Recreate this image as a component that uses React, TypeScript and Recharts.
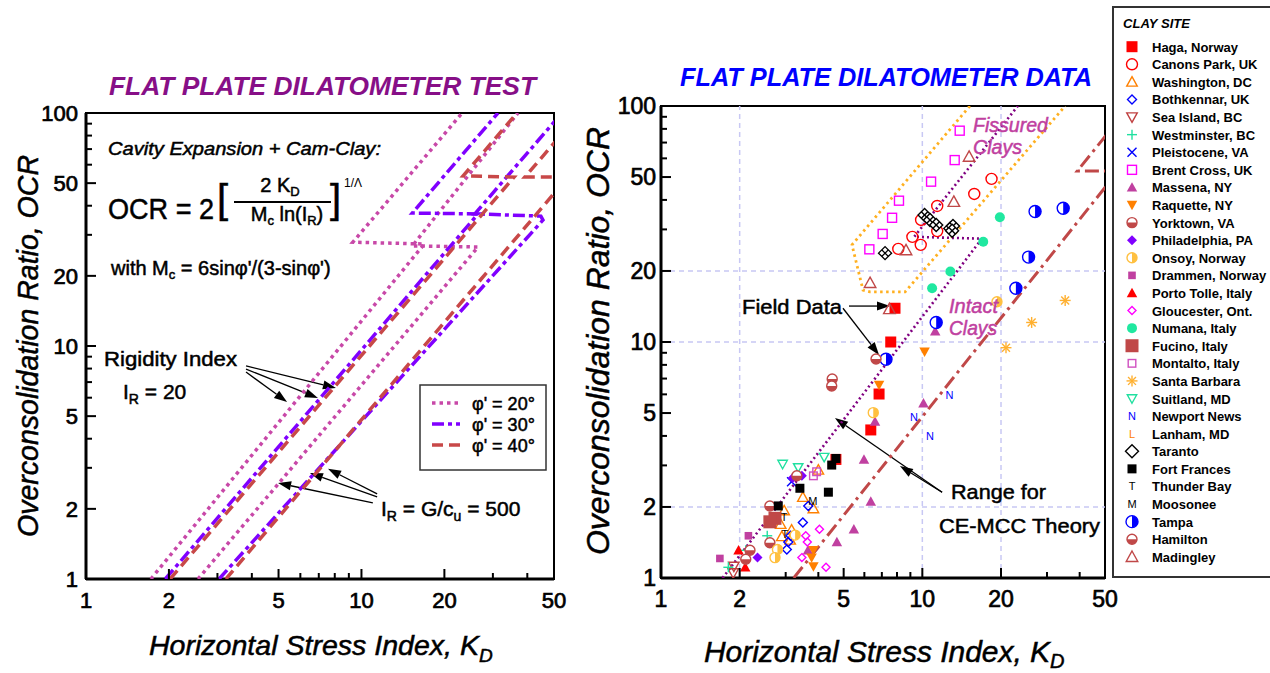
import React from 'react';
import { ScatterChart, Scatter, XAxis, YAxis, ReferenceLine, ReferenceArea } from 'recharts';

const FONT = '"Liberation Sans", Arial, Helvetica, sans-serif';

// axes
const kdTicks = [1, 2, 3, 4, 5, 6, 7, 8, 9, 10, 20, 30, 40, 50];
const kdLabels = [1, 2, 5, 10, 20, 50];
const ocrTicks = [1, 2, 3, 4, 5, 6, 7, 8, 9, 10, 20, 30, 40, 50, 60, 70, 80, 90, 100];
const ocrLabels = [1, 2, 5, 10, 20, 50, 100];
const gridValues = [2, 10, 20];

// CE-MCC theory curves, [KD, OCR]
const phi20ir20 = [[1.72, 1], [16.9, 27.4], [9.31, 27.9], [23.2, 100]];
const phi30ir20 = [[1.94, 1], [26.5, 36.9], [15.3, 37.2], [31.3, 100]];
const phi40ir20 = [[2.02, 1], [35.8, 53.1], [23.4, 53.7], [36.7, 100]];
const phi20ir500 = [[2.55, 1], [26.5, 26.6], [15.3, 26.9], [37.0, 100]];
const phi30ir500 = [[3.04, 1], [45.6, 34.7], [44.8, 36.1], [25.8, 36.9], [53.4, 100]];
const phi40ir500 = [[3.22, 1], [56.2, 53.1], [39.2, 53.1], [62.1, 100]];
const fissuredEnvelope = [[15.2, 100], [5.38, 25.8], [5.93, 16.6], [6.31, 16.3], [8.59, 16.3], [35.2, 100]];

// field data by clay site, [KD, OCR]
const haga = [[7.86, 13.9], [7.57, 10.0], [6.83, 6.02], [6.35, 4.24], [4.67, 3.18]];
const canonsPark = [[18.4, 49.1], [15.8, 42.4], [11.4, 37.7], [9.89, 32.9], [11.4, 29.5], [9.16, 27.9], [9.86, 25.8], [8.09, 24.8]];
const washington = [[3.49, 2.2], [3.83, 1.97], [2.96, 1.93], [2.87, 1.69], [3.16, 1.6], [2.9, 1.5], [3.12, 1.45], [4.0, 2.87]];
const bothkennar = [[3.66, 2.02], [3.49, 1.72], [3.07, 1.42], [3.03, 1.32], [3.13, 1.51]];
const seaIsland = [[1.89, 1.05], [1.9, 1.12]];
const westminster = [[2.55, 1.51], [2.11, 1.31], [1.81, 1.11]];
const pleistocene = [[3.16, 2.56]];
const brentCross = [[13.9, 78.6], [13.3, 59.0], [10.8, 47.8], [8.14, 39.7], [7.66, 33.6], [7.05, 28.7], [6.27, 24.7]];
const massena = [[11.2, 11.1], [10.1, 5.5], [6.59, 4.6], [5.98, 3.18], [6.35, 2.11], [5.47, 1.61], [4.71, 1.42], [3.65, 1.31]];
const raquette = [[10.2, 9.1], [6.83, 6.57], [3.83, 1.31], [3.77, 1.22], [3.83, 1.12]];
const yorktown = [[4.52, 6.97], [4.5, 6.51], [2.61, 2.02], [2.61, 1.41], [2.19, 1.31]];
const philadelphia = [[3.46, 2.71], [3.19, 2.65], [2.34, 1.22]];
const onsoy = [[19.3, 14.8], [6.49, 5.02], [2.79, 1.32], [2.73, 1.22], [3.26, 1.52]];
const drammen = [[2.16, 1.51], [1.68, 1.21]];
const portoTolle = [[1.98, 1.31], [2.1, 1.11]];
const gloucester = [[4.04, 1.61], [3.58, 1.51], [3.63, 1.42], [3.46, 1.22], [4.28, 1.11]];
const numana = [[19.8, 33.8], [17.1, 26.6], [12.8, 19.9], [10.9, 16.9]];
const fucino = [[2.73, 1.79], [2.61, 1.73]];
const montalto = [[3.83, 2.71], [3.94, 2.82]];
const santaBarbara = [[35.2, 15.0], [26.2, 12.1], [20.9, 9.46]];
const suitland = [[2.92, 3.04], [3.35, 2.94], [4.21, 3.25]];
const newportNews = [[12.7, 5.96], [9.3, 4.8], [10.7, 4.0]];
const lanham: number[][] = [];
const taranto = [[7.2, 23.8], [10.2, 34.5], [10.7, 32.9], [11.3, 31.3], [12.8, 30.3], [13.1, 31.0], [13.0, 29.6]];
const fortFrances = [[4.5, 3.01], [4.67, 3.21], [4.37, 2.31], [3.4, 2.4], [2.81, 2.02]];
const thunderBay = [[2.96, 1.81], [2.98, 1.53]];
const moosonee = [[3.81, 2.13]];
const tampa = [[34.6, 36.9], [27.0, 35.7], [25.5, 22.9], [22.8, 16.9], [11.3, 12.1], [7.26, 8.45]];
const hamilton = [[6.65, 8.47], [3.31, 2.71], [2.11, 1.2]];
const madingley = [[15.1, 61.0], [13.2, 39.3], [8.66, 24.5], [6.31, 17.8], [7.48, 13.8]];

// annotation arrows [from, to] in KD/OCR
const rigidityArrows = [[[3.81, 8.21], [8.08, 6.6]], [[3.81, 7.96], [6.95, 5.98]], [[3.81, 7.73], [5.37, 5.75]]];
const ir500Arrows = [[[11.4, 2.32], [7.56, 2.97]], [[11.4, 2.25], [6.5, 2.85]], [[11.0, 2.12], [4.98, 2.58]]];
const fieldArrows = [[[5.24, 14.2], [7.52, 14.2]], [[4.97, 13.9], [6.83, 8.81]]];
const rangeArrows = [[[11.9, 2.31], [4.63, 4.76]], [[11.9, 2.31], [8.21, 2.98]]];

const sites = [
  { name: 'Haga, Norway', data: haga, kind: 'sqF', color: '#ff0000', r: 5.5 },
  { name: 'Canons Park, UK', data: canonsPark, kind: 'circO', color: '#ff0000', r: 5.5 },
  { name: 'Washington, DC', data: washington, kind: 'triUO', color: '#ff8000', r: 5 },
  { name: 'Bothkennar, UK', data: bothkennar, kind: 'diaO', color: '#0000ff', r: 4.5 },
  { name: 'Sea Island, BC', data: seaIsland, kind: 'triDO', color: '#c04040', r: 5 },
  { name: 'Westminster, BC', data: westminster, kind: 'plus', color: '#20e0a0', r: 5 },
  { name: 'Pleistocene, VA', data: pleistocene, kind: 'x', color: '#0000ff', r: 4.5 },
  { name: 'Brent Cross, UK', data: brentCross, kind: 'sqO', color: '#ff00ff', r: 4.5 },
  { name: 'Massena, NY', data: massena, kind: 'triUF', color: '#c040a0', r: 5 },
  { name: 'Raquette, NY', data: raquette, kind: 'triDF', color: '#ff8000', r: 5 },
  { name: 'Yorktown, VA', data: yorktown, kind: 'halfB', color: '#c04848', r: 5 },
  { name: 'Philadelphia, PA', data: philadelphia, kind: 'diaF', color: '#8000ff', r: 5 },
  { name: 'Onsoy, Norway', data: onsoy, kind: 'halfR', color: '#ffc040', r: 5 },
  { name: 'Drammen, Norway', data: drammen, kind: 'sqF', color: '#c040a0', r: 3.8 },
  { name: 'Porto Tolle, Italy', data: portoTolle, kind: 'triUF', color: '#ff0000', r: 5 },
  { name: 'Gloucester, Ont.', data: gloucester, kind: 'diaO', color: '#ff00ff', r: 4 },
  { name: 'Numana, Italy', data: numana, kind: 'circF', color: '#20e8a0', r: 5 },
  { name: 'Fucino, Italy', data: fucino, kind: 'sqF', color: '#c04848', r: 6.5 },
  { name: 'Montalto, Italy', data: montalto, kind: 'sqO', color: '#d050c0', r: 3.8 },
  { name: 'Santa Barbara', data: santaBarbara, kind: 'star', color: '#ffb030', r: 5.5 },
  { name: 'Suitland, MD', data: suitland, kind: 'triDO', color: '#20e0a0', r: 4.5 },
  { name: 'Newport News', data: newportNews, kind: 'N', color: '#0000ff', r: 5 },
  { name: 'Lanham, MD', data: lanham, kind: 'L', color: '#ff8000', r: 5 },
  { name: 'Taranto', data: taranto, kind: 'diaH', legendKind: 'dia', color: '#000000', r: 6.5 },
  { name: 'Fort Frances', data: fortFrances, kind: 'sqF', color: '#000000', r: 4.5 },
  { name: 'Thunder Bay', data: thunderBay, kind: 'T', color: '#000000', r: 5 },
  { name: 'Moosonee', data: moosonee, kind: 'M', color: '#000000', r: 5 },
  { name: 'Tampa', data: tampa, kind: 'halfR', color: '#0000ff', r: 6 },
  { name: 'Hamilton', data: hamilton, kind: 'halfB', color: '#c04848', r: 5 },
  { name: 'Madingley', data: madingley, kind: 'triUO', color: '#c04848', r: 5.5 },
];

const PINK = '#c848a8';
const VIOLET = '#8000ff';
const BRICK = '#c84848';
const dotted = { dash: '3.5 4', width: 3.5 };
const dashDot = { dash: '12 4 4 4', width: 3.5 };
const dashed = { dash: '11 6', width: 3.5 };

const leftCurves = [
  { data: phi20ir20, color: PINK, ...dotted },
  { data: phi20ir500, color: PINK, ...dotted },
  { data: phi30ir20, color: VIOLET, ...dashDot },
  { data: phi30ir500, color: VIOLET, ...dashDot },
  { data: phi40ir20, color: BRICK, ...dashed },
  { data: phi40ir500, color: BRICK, ...dashed },
];

const rightCurves = [
  { data: fissuredEnvelope, color: '#ffb020', dash: '2.5 3.5', width: 2.8 },
  { data: phi20ir20, color: '#800080', dash: '2 3', width: 2.6 },
  { data: phi40ir500, color: '#c04848', dash: '14 5 3 5', width: 3 },
];

const toPts = (a: number[][]) => a.map(([x, y]) => ({ x, y }));

function Marker({ kind, color, cx, cy, r }: any) {
  const sw = 1.4;
  const h = r * 1.05;
  const up = `${cx},${cy - h} ${cx + h},${cy + h * 0.8} ${cx - h},${cy + h * 0.8}`;
  const down = `${cx},${cy + h} ${cx + h},${cy - h * 0.8} ${cx - h},${cy - h * 0.8}`;
  const dia = `${cx},${cy - r} ${cx + r},${cy} ${cx},${cy + r} ${cx - r},${cy}`;
  switch (kind) {
    case 'sqF':
      return <rect x={cx - r} y={cy - r} width={2 * r} height={2 * r} fill={color} />;
    case 'sqO':
      return <rect x={cx - r} y={cy - r} width={2 * r} height={2 * r} fill="none" stroke={color} strokeWidth={sw} />;
    case 'circO':
      return <circle cx={cx} cy={cy} r={r} fill="none" stroke={color} strokeWidth={sw} />;
    case 'circF':
      return <circle cx={cx} cy={cy} r={r} fill={color} />;
    case 'triUO':
      return <polygon points={up} fill="none" stroke={color} strokeWidth={sw} />;
    case 'triUF':
      return <polygon points={up} fill={color} />;
    case 'triDO':
      return <polygon points={down} fill="none" stroke={color} strokeWidth={sw} />;
    case 'triDF':
      return <polygon points={down} fill={color} />;
    case 'diaO':
    case 'dia':
      return <polygon points={dia} fill="none" stroke={color} strokeWidth={sw} />;
    case 'diaF':
      return <polygon points={dia} fill={color} />;
    case 'diaH':
      return (
        <g stroke={color} strokeWidth={sw}>
          <polygon points={dia} fill="#fff" />
          <line x1={cx + r / 2} y1={cy - r / 2} x2={cx - r / 2} y2={cy + r / 2} />
          <line x1={cx - r / 2} y1={cy - r / 2} x2={cx + r / 2} y2={cy + r / 2} />
        </g>
      );
    case 'plus':
      return (
        <g stroke={color} strokeWidth={sw}>
          <line x1={cx - r} y1={cy} x2={cx + r} y2={cy} />
          <line x1={cx} y1={cy - r} x2={cx} y2={cy + r} />
        </g>
      );
    case 'x':
      return (
        <g stroke={color} strokeWidth={sw}>
          <line x1={cx - r} y1={cy - r} x2={cx + r} y2={cy + r} />
          <line x1={cx - r} y1={cy + r} x2={cx + r} y2={cy - r} />
        </g>
      );
    case 'star': {
      const d = r * 0.72;
      return (
        <g stroke={color} strokeWidth={sw}>
          <line x1={cx - r} y1={cy} x2={cx + r} y2={cy} />
          <line x1={cx} y1={cy - r} x2={cx} y2={cy + r} />
          <line x1={cx - d} y1={cy - d} x2={cx + d} y2={cy + d} />
          <line x1={cx - d} y1={cy + d} x2={cx + d} y2={cy - d} />
        </g>
      );
    }
    case 'halfB':
      return (
        <g>
          <circle cx={cx} cy={cy} r={r} fill="#fff" stroke={color} strokeWidth={sw} />
          <path d={`M${cx - r},${cy} A${r},${r} 0 0 0 ${cx + r},${cy} Z`} fill={color} />
        </g>
      );
    case 'halfR':
      return (
        <g>
          <circle cx={cx} cy={cy} r={r} fill="#fff" stroke={color} strokeWidth={sw} />
          <path d={`M${cx},${cy - r} A${r},${r} 0 0 1 ${cx},${cy + r} Z`} fill={color} />
        </g>
      );
    default:
      return (
        <text x={cx} y={cy + 4} textAnchor="middle" fontSize={11} fontFamily={FONT} fill={color}>
          {kind}
        </text>
      );
  }
}

const arrowShape = (p: any) => {
  const { x1, y1, x2, y2 } = p;
  const a = Math.atan2(y2 - y1, x2 - x1);
  const L = 13;
  const W = 4.5;
  const bx = x2 - L * Math.cos(a);
  const by = y2 - L * Math.sin(a);
  const pts = `${x2},${y2} ${bx + W * Math.sin(a)},${by - W * Math.cos(a)} ${bx - W * Math.sin(a)},${by + W * Math.cos(a)}`;
  return (
    <g>
      <line x1={x1} y1={y1} x2={bx} y2={by} stroke="#000" strokeWidth={1.3} />
      <polygon points={pts} fill="#000" />
    </g>
  );
};

const makeXTick = (fs: number) => (p: any) => {
  const { x, y, payload } = p;
  const major = kdLabels.includes(payload.value);
  return (
    <g>
      <line x1={x} x2={x} y1={y} y2={y - (major ? 10 : 6)} stroke="#000" strokeWidth={2} />
      {major && (
        <text x={x} y={y + 29} textAnchor="middle" fontSize={fs} fontFamily={FONT} fill="#000" stroke="#000" strokeWidth={0.7}>
          {payload.value}
        </text>
      )}
    </g>
  );
};

const makeYTick = (fs: number, gap: number) => (p: any) => {
  const { x, y, payload } = p;
  const major = ocrLabels.includes(payload.value);
  return (
    <g>
      <line x1={x} x2={x + (major ? 10 : 6)} y1={y} y2={y} stroke="#000" strokeWidth={2} />
      {major && (
        <text x={x - gap} y={y + fs * 0.36} textAnchor="end" fontSize={fs} fontFamily={FONT} fill="#000" stroke="#000" strokeWidth={0.7}>
          {payload.value}
        </text>
      )}
    </g>
  );
};

function axes(fs: number, gap: number) {
  return [
    <XAxis
      key="x"
      type="number"
      dataKey="x"
      scale="log"
      domain={[1, 50]}
      allowDataOverflow
      ticks={kdTicks}
      interval={0}
      tick={makeXTick(fs)}
      tickSize={0}
      tickMargin={0}
      tickLine={false}
      axisLine={{ stroke: '#000', strokeWidth: 3 }}
      height={30}
    />,
    <YAxis
      key="y"
      type="number"
      dataKey="y"
      scale="log"
      domain={[1, 100]}
      allowDataOverflow
      ticks={ocrTicks}
      interval={0}
      tick={makeYTick(fs, gap)}
      tickSize={0}
      tickMargin={0}
      tickLine={false}
      axisLine={{ stroke: '#000', strokeWidth: 3 }}
      width={40}
    />,
  ];
}

function curveSeries(list: any[], prefix: string) {
  return list.map((c, i) => (
    <Scatter
      key={prefix + i}
      data={toPts(c.data)}
      fill={c.color}
      line={{ stroke: c.color, strokeWidth: c.width, strokeDasharray: c.dash }}
      shape={() => <g />}
      isAnimationActive={false}
    />
  ));
}

function arrowLines(list: number[][][], prefix: string) {
  return list.map(([a, b], i) => (
    <ReferenceLine
      key={prefix + i}
      segment={[{ x: a[0], y: a[1] }, { x: b[0], y: b[1] }]}
      shape={arrowShape}
      ifOverflow="visible"
    />
  ));
}

function LeftChart() {
  return (
    <ScatterChart width={600} height={673} margin={{ top: 113, right: 46, bottom: 64, left: 46 }}>
      {axes(22, 8)}
      <ReferenceArea x1={1} x2={50} y1={1} y2={100} fill="none" stroke="#000" strokeWidth={2} ifOverflow="visible" />
      {curveSeries(leftCurves, 'l')}
      {arrowLines(rigidityArrows, 'ra')}
      {arrowLines(ir500Arrows, 'ia')}
    </ScatterChart>
  );
}

function RightChart() {
  return (
    <ScatterChart width={520} height={673} margin={{ top: 106, right: 15, bottom: 65, left: 21 }}>
      {axes(23, 5)}
      {gridValues.map((v) => (
        <ReferenceLine key={'gx' + v} x={v} stroke="#c8c8f4" strokeWidth={1.5} strokeDasharray="5 4" />
      ))}
      {gridValues.map((v) => (
        <ReferenceLine key={'gy' + v} y={v} stroke="#c8c8f4" strokeWidth={1.5} strokeDasharray="5 4" />
      ))}
      <ReferenceArea x1={1} x2={50} y1={1} y2={100} fill="none" stroke="#000" strokeWidth={2} ifOverflow="visible" />
      {curveSeries(rightCurves, 'r')}
      {sites.map((s) => (
        <Scatter
          key={s.name}
          name={s.name}
          data={toPts(s.data)}
          fill={s.color}
          shape={(p: any) => <Marker kind={s.kind} color={s.color} cx={p.cx} cy={p.cy} r={s.r} />}
          isAnimationActive={false}
        />
      ))}
      {arrowLines(fieldArrows, 'fa')}
      {arrowLines(rangeArrows, 'ga')}
    </ScatterChart>
  );
}

function Overlay() {
  const T = { fontFamily: FONT, fill: '#000' };
  const H = { stroke: '#000', strokeWidth: 0.5 };
  return (
    <svg width={1270} height={673} style={{ position: 'absolute', left: 0, top: 0, pointerEvents: 'none' }}>
      {/* left panel text */}
      <text {...T} x={109} y={95} fontSize={25} fontWeight="bold" fontStyle="italic" fill="#870f87" textLength={427} lengthAdjust="spacingAndGlyphs">
        FLAT PLATE DILATOMETER TEST
      </text>
      <text {...T} {...H} x={108} y={155} fontSize={19} fontStyle="italic" textLength={273} lengthAdjust="spacingAndGlyphs">
        Cavity Expansion + Cam-Clay:
      </text>
      <text {...T} {...H} x={108} y={219} fontSize={30} textLength={106} lengthAdjust="spacingAndGlyphs">OCR = 2</text>
      <text {...T} {...H} x={217} y={213} fontSize={40}>[</text>
      <text {...T} {...H} x={280} y={192} fontSize={20} textAnchor="middle">
        2 K<tspan fontSize={13} dy={4}>D</tspan>
      </text>
      <line x1={234} x2={331} y1={202} y2={202} stroke="#000" strokeWidth={1.8} />
      <text {...T} {...H} x={287} y={221} fontSize={20} textAnchor="middle">
        M<tspan fontSize={13} dy={4}>c</tspan>
        <tspan dy={-4}>{' ln(I'}</tspan>
        <tspan fontSize={13} dy={4}>R</tspan>
        <tspan dy={-4}>)</tspan>
      </text>
      <text {...T} {...H} x={330} y={213} fontSize={40}>]</text>
      <text {...T} x={344} y={187} fontSize={12}>1/Λ</text>
      <text {...T} {...H} x={111} y={275} fontSize={20}>
        with M<tspan fontSize={13} dy={4}>c</tspan>
        <tspan dy={-4}>{" = 6sinφ'/(3-sinφ')"}</tspan>
      </text>
      <text {...T} {...H} x={104} y={366} fontSize={20} textLength={133} lengthAdjust="spacingAndGlyphs">Rigidity Index</text>
      <text {...T} {...H} x={123} y={399} fontSize={21}>
        I<tspan fontSize={14} dy={5}>R</tspan>
        <tspan dy={-5}>{' = 20'}</tspan>
      </text>
      <text {...T} {...H} x={381} y={516} fontSize={21}>
        I<tspan fontSize={14} dy={5}>R</tspan>
        <tspan dy={-5}>{' = G/c'}</tspan>
        <tspan fontSize={14} dy={5}>u</tspan>
        <tspan dy={-5}>{' = 500'}</tspan>
      </text>
      <rect x={420} y={385} width={126} height={85} fill="#fff" stroke="#333" strokeWidth={1.5} />
      <line x1={432} x2={460} y1={403} y2={403} stroke={PINK} strokeWidth={3.5} strokeDasharray="3.5 4" />
      <line x1={432} x2={460} y1={424} y2={424} stroke={VIOLET} strokeWidth={3.5} strokeDasharray="12 4 4 4" />
      <line x1={432} x2={460} y1={445} y2={445} stroke={BRICK} strokeWidth={3.5} strokeDasharray="11 6" />
      <text {...T} {...H} x={472} y={410} fontSize={18}>φ' = 20°</text>
      <text {...T} {...H} x={472} y={431} fontSize={18}>φ' = 30°</text>
      <text {...T} {...H} x={472} y={452} fontSize={18}>φ' = 40°</text>
      <text {...T} {...H} transform="translate(38,346) rotate(-90)" x={0} y={0} fontSize={29} fontStyle="italic" textAnchor="middle" textLength={382} lengthAdjust="spacingAndGlyphs">
        Overconsolidation Ratio,  OCR
      </text>
      <text {...T} {...H} x={149} y={655} fontSize={28} fontStyle="italic">
        <tspan textLength={330} lengthAdjust="spacingAndGlyphs">Horizontal Stress Index, K</tspan>
        <tspan fontSize={19} dy={7}>D</tspan>
      </text>

      {/* right panel text */}
      <text {...T} x={680} y={86} fontSize={26} fontWeight="bold" fontStyle="italic" fill="#0000ff" textLength={412} lengthAdjust="spacingAndGlyphs">
        FLAT PLATE DILATOMETER DATA
      </text>
      <text {...T} x={973} y={132} fontSize={21} fontStyle="italic" fill="#c040a0" stroke="#c040a0" strokeWidth={0.5} textLength={75} lengthAdjust="spacingAndGlyphs">Fissured</text>
      <text {...T} x={973} y={154} fontSize={21} fontStyle="italic" fill="#c040a0" stroke="#c040a0" strokeWidth={0.5} textLength={49} lengthAdjust="spacingAndGlyphs">Clays</text>
      <text {...T} x={949} y={313} fontSize={21} fontStyle="italic" fill="#c040a0" stroke="#c040a0" strokeWidth={0.5} textLength={49} lengthAdjust="spacingAndGlyphs">Intact</text>
      <text {...T} x={949} y={335} fontSize={21} fontStyle="italic" fill="#c040a0" stroke="#c040a0" strokeWidth={0.5} textLength={48} lengthAdjust="spacingAndGlyphs">Clays</text>
      <text {...T} {...H} x={742} y={314} fontSize={21} textLength={100} lengthAdjust="spacingAndGlyphs">Field Data</text>
      <text {...T} {...H} x={951} y={499} fontSize={21} textLength={95} lengthAdjust="spacingAndGlyphs">Range for</text>
      <text {...T} {...H} x={939} y={533} fontSize={21} textLength={161} lengthAdjust="spacingAndGlyphs">CE-MCC Theory</text>
      <text {...T} {...H} transform="translate(609,341) rotate(-90)" x={0} y={0} fontSize={31} fontStyle="italic" textAnchor="middle" textLength={428} lengthAdjust="spacingAndGlyphs">
        Overconsolidation Ratio,  OCR
      </text>
      <text {...T} {...H} x={704} y={662} fontSize={30} fontStyle="italic">
        <tspan textLength={346} lengthAdjust="spacingAndGlyphs">Horizontal Stress Index, K</tspan>
        <tspan fontSize={20} dy={6}>D</tspan>
      </text>

      {/* site legend */}
      <rect x={1113} y={7} width={170} height={570} fill="#fff" stroke="#333" strokeWidth={2} />
      <text {...T} x={1123} y={28} fontSize={12} fontWeight="bold" fontStyle="italic" textLength={67} lengthAdjust="spacingAndGlyphs">
        CLAY SITE
      </text>
      {sites.map((s, i) => {
        const cy = 46.7 + i * 17.59;
        return (
          <g key={s.name}>
            <Marker kind={s.legendKind ?? s.kind} color={s.color} cx={1132} cy={cy} r={s.r} />
            <text {...T} x={1152} y={cy + 5} fontSize={13} fontWeight="bold">
              {s.name}
            </text>
          </g>
        );
      })}
    </svg>
  );
}

export default function App() {
  return (
    <div style={{ position: 'absolute', left: 0, top: 0, width: 1270, height: 673, background: '#fff', overflow: 'hidden' }}>
      <div style={{ position: 'absolute', left: 0, top: 0 }}>
        <LeftChart />
      </div>
      <div style={{ position: 'absolute', left: 600, top: 0 }}>
        <RightChart />
      </div>
      <Overlay />
    </div>
  );
}
